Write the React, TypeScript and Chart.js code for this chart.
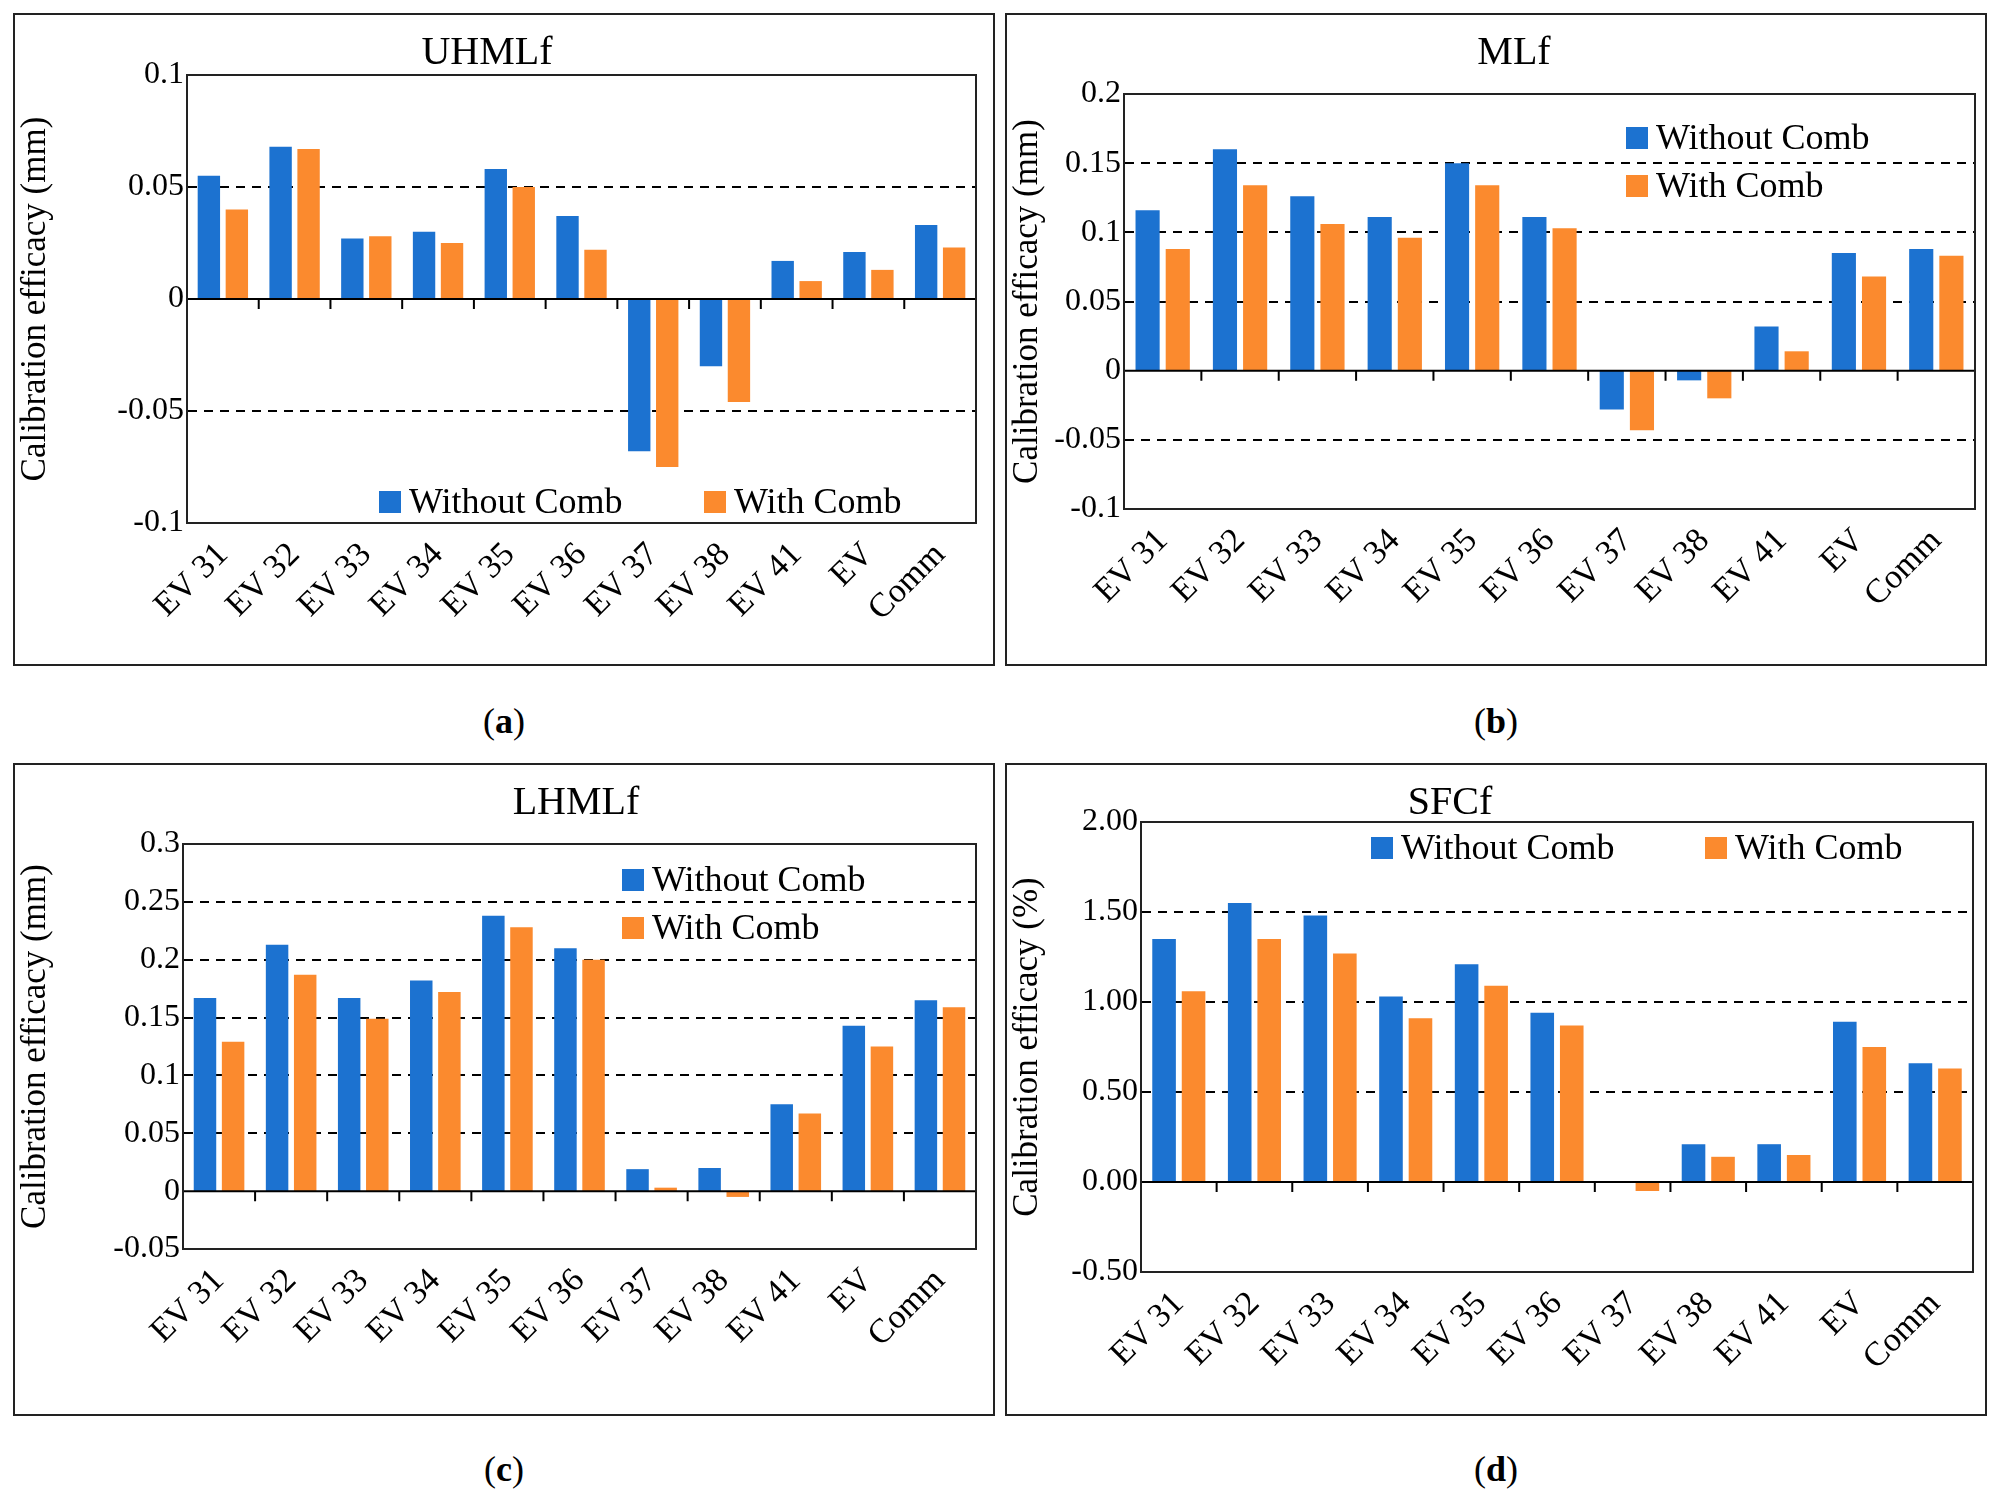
import { useEffect, useRef } from "react";
import { Chart, registerables } from "chart.js";

Chart.register(...registerables);

const categories = ["EV 31", "EV 32", "EV 33", "EV 34", "EV 35", "EV 36", "EV 37", "EV 38", "EV 41", "EV", "Comm"];

const uhmlWithout = [0.055, 0.068, 0.027, 0.030, 0.058, 0.037, -0.068, -0.030, 0.017, 0.021, 0.033];
const uhmlWith = [0.040, 0.067, 0.028, 0.025, 0.050, 0.022, -0.075, -0.046, 0.008, 0.013, 0.023];
const mlWithout = [0.116, 0.160, 0.126, 0.111, 0.150, 0.111, -0.028, -0.007, 0.032, 0.085, 0.088];
const mlWith = [0.088, 0.134, 0.106, 0.096, 0.134, 0.103, -0.043, -0.020, 0.014, 0.068, 0.083];
const lhmlWithout = [0.167, 0.213, 0.167, 0.182, 0.238, 0.210, 0.019, 0.020, 0.075, 0.143, 0.165];
const lhmlWith = [0.129, 0.187, 0.149, 0.172, 0.228, 0.200, 0.003, -0.005, 0.067, 0.125, 0.159];
const sfcWithout = [1.35, 1.55, 1.48, 1.03, 1.21, 0.94, 0, 0.21, 0.21, 0.89, 0.66];
const sfcWith = [1.06, 1.35, 1.27, 0.91, 1.09, 0.87, -0.05, 0.14, 0.15, 0.75, 0.63];

const BLUE = "#1c72d0";
const ORANGE = "#fb8a2e";
const FONT = "'Liberation Serif', 'DejaVu Serif', serif";

const zeroLine = {
  id: "zeroLine",
  afterDraw(chart: any) {
    const { ctx, chartArea, scales } = chart;
    const y = scales.y.getPixelForValue(0);
    ctx.save();
    ctx.strokeStyle = "#000";
    ctx.lineWidth = 2;
    ctx.beginPath();
    ctx.moveTo(chartArea.left, y);
    ctx.lineTo(chartArea.right, y);
    const n = categories.length;
    const w = (chartArea.right - chartArea.left) / n;
    for (let i = 1; i <= n; i++) {
      const x = chartArea.left + i * w;
      ctx.moveTo(x, y);
      ctx.lineTo(x, y + 10);
    }
    ctx.stroke();
    ctx.strokeStyle = "#222";
    ctx.strokeRect(chartArea.left, chartArea.top, chartArea.right - chartArea.left, chartArea.bottom - chartArea.top);
    ctx.restore();
  },
};

interface PanelProps {
  title: string;
  without: number[];
  withC: number[];
  min: number;
  max: number;
  step: number;
  yTitle: string;
  decimals?: number;
  pad: { left: number; top: number; right: number; bottom: number };
  titleX: number;
  legend: { left: number; top: number; row: boolean; gap: number };
}

const PW = 982;
const PH = 653;

function Panel(p: PanelProps) {
  const ref = useRef<HTMLCanvasElement>(null);
  useEffect(() => {
    if (!ref.current) return;
    const chart = new Chart(ref.current, {
      type: "bar",
      data: {
        labels: categories,
        datasets: [
          { label: "Without Comb", data: p.without, backgroundColor: BLUE, barPercentage: 0.8, categoryPercentage: 0.78 },
          { label: "With Comb", data: p.withC, backgroundColor: ORANGE, barPercentage: 0.8, categoryPercentage: 0.78 },
        ],
      },
      options: {
        responsive: true,
        maintainAspectRatio: false,
        animation: false,
        layout: { padding: { top: p.pad.top, right: p.pad.right, left: 0, bottom: 0 } },
        plugins: { legend: { display: false }, tooltip: { enabled: false } },
        scales: {
          x: {
            grid: { display: false },
            border: { display: false },
            ticks: { color: "#000", font: { family: FONT, size: 34 }, maxRotation: 45, minRotation: 45, padding: 4 },
            afterFit: (s: any) => { s.height = p.pad.bottom; },
          },
          y: {
            min: p.min,
            max: p.max,
            ticks: {
              stepSize: p.step,
              color: "#000",
              font: { family: FONT, size: 32 },
              callback: (v: any) => (p.decimals ? Number(v).toFixed(p.decimals) : String(Math.round(Number(v) * 1000) / 1000)),
            },
            grid: {
              color: (c: any) => (c.tick && (c.tick.value === p.min || c.tick.value === p.max || Math.abs(c.tick.value) < 1e-9) ? "transparent" : "#000"),
              lineWidth: 2,
              drawTicks: false,
            },
            border: { display: true, color: "#000", width: 2, dash: [9, 7] },
            title: { display: true, text: p.yTitle, color: "#000", font: { family: FONT, size: 35 }, padding: 0 },
            afterFit: (s: any) => { s.width = p.pad.left; },
          },
        },
      },
      plugins: [zeroLine],
    });
    return () => chart.destroy();
  }, []);

  const mark = (c: string) => (
    <span style={{ display: "inline-block", width: 22, height: 22, background: c, marginRight: 8 }} />
  );

  return (
    <div style={{ position: "relative", width: PW, height: PH, border: "2px solid #222", boxSizing: "border-box", background: "#fff" }}>
      <div style={{ position: "absolute", inset: 0 }}>
        <canvas ref={ref} />
      </div>
      <div style={{ position: "absolute", left: p.titleX - 150, width: 300, top: 12, textAlign: "center", fontFamily: FONT, fontSize: 40 }}>{p.title}</div>
      <div style={{ position: "absolute", left: p.legend.left, top: p.legend.top, fontFamily: FONT, fontSize: 36, lineHeight: "48px", whiteSpace: "nowrap" }}>
        <div style={{ display: p.legend.row ? "inline-block" : "block", width: p.legend.row ? p.legend.gap : undefined }}>{mark(BLUE)}Without Comb</div>
        <div style={{ display: p.legend.row ? "inline-block" : "block" }}>{mark(ORANGE)}With Comb</div>
      </div>
    </div>
  );
}

const caption = (l: string) => (
  <span>(<b>{l}</b>)</span>
);

export default function App() {
  const cap: any = { position: "absolute", width: 982, textAlign: "center", fontFamily: FONT, fontSize: 36 };
  return (
    <div style={{ position: "absolute", left: 0, top: 0, width: 2000, height: 1499, background: "#fff" }}>
      <div style={{ position: "absolute", left: 13, top: 13 }}>
        <Panel title="UHMLf" without={uhmlWithout} withC={uhmlWith} min={-0.1} max={0.1} step={0.05}
          yTitle="Calibration efficacy (mm)" pad={{ left: 172, top: 60, right: 17, bottom: 141 }} titleX={472}
          legend={{ left: 364, top: 462, row: true, gap: 325 }} />
      </div>
      <div style={{ position: "absolute", left: 1005, top: 13 }}>
        <Panel title="MLf" without={mlWithout} withC={mlWith} min={-0.1} max={0.2} step={0.05}
          yTitle="Calibration efficacy (mm)" pad={{ left: 117, top: 79, right: 10, bottom: 155 }} titleX={507}
          legend={{ left: 619, top: 98, row: false, gap: 0 }} />
      </div>
      <div style={{ position: "absolute", left: 13, top: 763 }}>
        <Panel title="LHMLf" without={lhmlWithout} withC={lhmlWith} min={-0.05} max={0.3} step={0.05}
          yTitle="Calibration efficacy (mm)" pad={{ left: 168, top: 79, right: 17, bottom: 165 }} titleX={561}
          legend={{ left: 607, top: 90, row: false, gap: 0 }} />
      </div>
      <div style={{ position: "absolute", left: 1005, top: 763 }}>
        <Panel title="SFCf" without={sfcWithout} withC={sfcWith} min={-0.5} max={2} step={0.5} decimals={2}
          yTitle="Calibration efficacy (%)" pad={{ left: 134, top: 57, right: 12, bottom: 142 }} titleX={443}
          legend={{ left: 364, top: 58, row: true, gap: 334 }} />
      </div>
      <div style={{ ...cap, left: 13, top: 700 }}>{caption("a")}</div>
      <div style={{ ...cap, left: 1005, top: 700 }}>{caption("b")}</div>
      <div style={{ ...cap, left: 13, top: 1448 }}>{caption("c")}</div>
      <div style={{ ...cap, left: 1005, top: 1448 }}>{caption("d")}</div>
    </div>
  );
}
